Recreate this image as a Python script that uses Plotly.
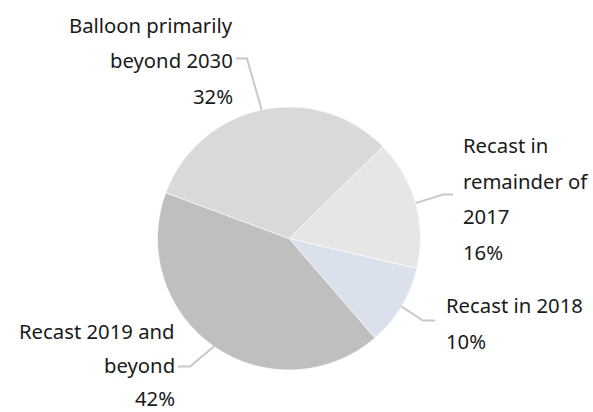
import math
import plotly.graph_objects as go

# ---- data ----
categories = ["Recast in remainder of 2017", "Recast in 2018",
              "Recast 2019 and beyond", "Balloon primarily beyond 2030"]
values = [16, 10, 42, 32]
label_lines = [["Recast in", "remainder of", "2017"],
               ["Recast in 2018"],
               ["Recast 2019 and", "beyond"],
               ["Balloon primarily", "beyond 2030"]]
colors = ["#e6e6e6", "#dbe1ec", "#bfbfbf", "#d9d9d9"]

# ---- layout constants (pixels) ----
W, H = 593, 412
CX, CY, R = 289.0, 238.5, 131.5
ROT = 45.6
FONT = "Noto Sans, Open Sans, sans-serif"
FS = 20.3
TXT = "#1a1a1a"
LEAD = "#c8c8c8"

# per label: text x, first line y, line spacing, anchor, elbow point, leader end
label_pos = [
    dict(x=462, y=145, lh=35.5, anchor="left", elbow=(443, 194.5), end=(453, 194.5)),
    dict(x=445, y=305, lh=35.5, anchor="left", elbow=(423, 320.5), end=(435, 320.5)),
    dict(x=176, y=331, lh=33.5, anchor="right", elbow=(190, 366.5), end=(178, 366.5)),
    dict(x=234, y=24.5, lh=35.5, anchor="right", elbow=(247, 58.5), end=(236, 58.5)),
]

fig = go.Figure()
fig.add_trace(go.Pie(
    labels=categories, values=values, sort=False, direction="clockwise",
    rotation=ROT, textinfo="none", hoverinfo="label+percent",
    marker=dict(colors=colors, line=dict(color="#ffffff", width=0.6)),
    domain=dict(x=[(CX - R) / W, (CX + R) / W],
                y=[1 - (CY + R) / H, 1 - (CY - R) / H]),
    showlegend=False,
))

total = sum(values)
cum = 0
annotations = []
shapes = []
for i, v in enumerate(values):
    mid = ROT + (cum + v / 2) / total * 360
    cum += v
    a = math.radians(mid)
    sx = CX + R * math.sin(a)
    sy = CY - R * math.cos(a)
    p = label_pos[i]
    ex, ey = p["elbow"]
    tx, ty = p["end"]
    shapes.append(dict(type="path", xref="x", yref="y",
                       path=f"M {sx},{sy} L {ex},{ey} L {tx},{ty}",
                       line=dict(color=LEAD, width=2)))
    lines = label_lines[i] + [f"{v}%"]
    for j, t in enumerate(lines):
        annotations.append(dict(
            x=p["x"], y=p["y"] + j * p["lh"], xref="x", yref="y",
            text=t, showarrow=False, xanchor=p["anchor"], yanchor="middle",
            borderpad=0,
            font=dict(family=FONT, size=FS, color=TXT)))

fig.update_layout(
    width=W, height=H, margin=dict(l=0, r=0, t=0, b=0),
    paper_bgcolor="white", plot_bgcolor="white",
    xaxis=dict(range=[0, W], visible=False, fixedrange=True),
    yaxis=dict(range=[H, 0], visible=False, fixedrange=True),
    shapes=shapes, annotations=annotations,
)

fig.write_html("out.html", config={"displayModeBar": False},
               post_script="document.body.style.margin='0';document.body.style.overflow='hidden';")
